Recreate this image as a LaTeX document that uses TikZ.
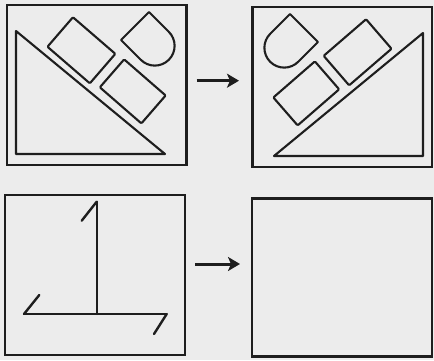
\documentclass[tikz,border=0pt]{standalone}
\usetikzlibrary{arrows.meta}
\definecolor{paper}{RGB}{236,236,236}
\definecolor{ink}{RGB}{30,30,30}
\begin{document}
\begin{tikzpicture}[x=1pt,y=1pt,
  frame/.style={draw=ink,line width=2.6pt},
  outline/.style={draw=ink,line width=2.1pt,line join=round},
  fig/.style={draw=ink,line width=2.4pt,line cap=round},
  goarrow/.style={draw=ink,line width=3pt,-{Stealth[length=12pt,width=14pt,inset=3pt]}}]
\fill[paper] (0,0) rectangle (434,360);
\useasboundingbox (0,0) rectangle (434,360);
% top-left panel and its mirror
\foreach \sx/\tx/\ty in {1/0/0,-1/439/-2}{
\begin{scope}[shift={(\tx,\ty)},xscale=\sx]
  \draw[frame] (7,355) rectangle (186.7,195);
  \draw[outline] (16,329) -- (16,206) -- (165,206) -- cycle;
  \draw[outline,rounded corners=1pt,shift={(81.4,309.7)},rotate=-40.8] (-28,-19.5) rectangle (28,19.5);
  \draw[outline,rounded corners=1pt,shift={(132.75,268.6)},rotate=-41] (-27.5,-18.5) rectangle (27.5,18.5);
  \draw[outline,shift={(154.8,314.2)},rotate=-45] (-28,-19.8) -- (0,-19.8) arc[start angle=-90,end angle=90,radius=19.8] -- (-28,19.8) -- cycle;
\end{scope}}
% arrows
\coordinate (a1s) at (196.7,279.3);
\coordinate (a1e) at (239,279.3);
\draw[goarrow] (a1s) -- (a1e);
\coordinate (a2s) at (195,96);
\coordinate (a2e) at (240,96);
\draw[goarrow] (a2s) -- (a2e);
% bottom-left panel
\draw[frame] (5,165) rectangle (185,5);
\draw[fig] (96.7,158.3) -- (96.7,46);
\draw[fig] (24,46) -- (166.7,46);
\draw[fig] (96.7,158.3) -- (81.7,139.3);
\draw[fig] (24,46) -- (39.3,65);
\draw[fig] (166.7,46) -- (154,26);
% bottom-right panel (empty)
\draw[frame] (252,161.7) rectangle (432,3.3);
\end{tikzpicture}
\end{document}
